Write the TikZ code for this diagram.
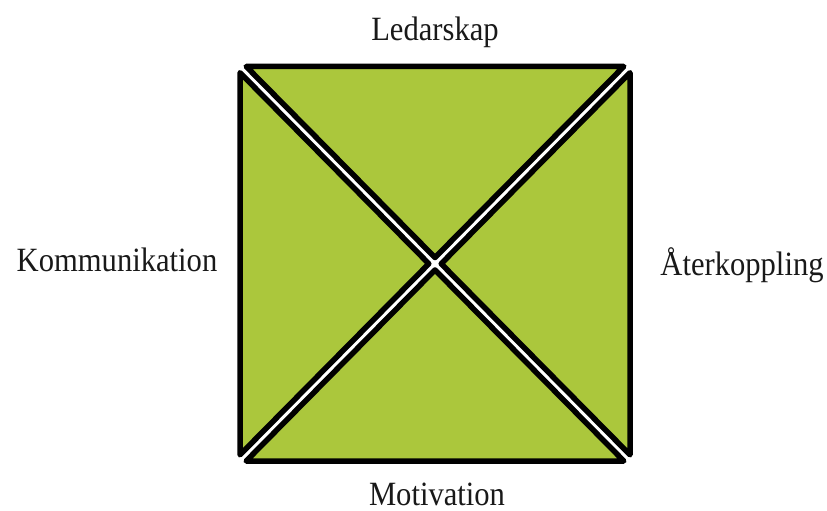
\documentclass[tikz,border=0pt]{standalone}
\usepackage{fontspec}
\setmainfont[FakeStretch=0.9]{Liberation Serif}
\definecolor{leaf}{RGB}{171,199,60}
\begin{document}
\begin{tikzpicture}[x=1pt,y=-1pt,
  tri/.style={fill=leaf,draw=black,line width=5.5pt,line join=round},
  lbl/.style={anchor=base,inner sep=0pt,font=\fontsize{34}{40}\selectfont,text=black!90}]
\useasboundingbox (0,0) rectangle (827,511);
\def\d{6.2}
% top
\draw[tri] (240+\d,66.5) -- (630-\d,66.5) -- (435,263.75-\d) -- cycle;
% bottom
\draw[tri] (240+\d,461) -- (630-\d,461) -- (435,263.75+\d) -- cycle;
% left
\draw[tri] (240,66.5+\d) -- (240,461-\d) -- (435-\d,263.75) -- cycle;
% right
\draw[tri] (630,66.5+\d) -- (630,461-\d) -- (435+\d,263.75) -- cycle;
\node[lbl] (top) at (435,41) {Ledarskap};
\node[lbl] (left) at (117,271) {Kommunikation};
\node[lbl] (right) at (742,275) {Återkoppling};
\node[lbl] (bottom) at (437,505) {Motivation};
\end{tikzpicture}
\end{document}
